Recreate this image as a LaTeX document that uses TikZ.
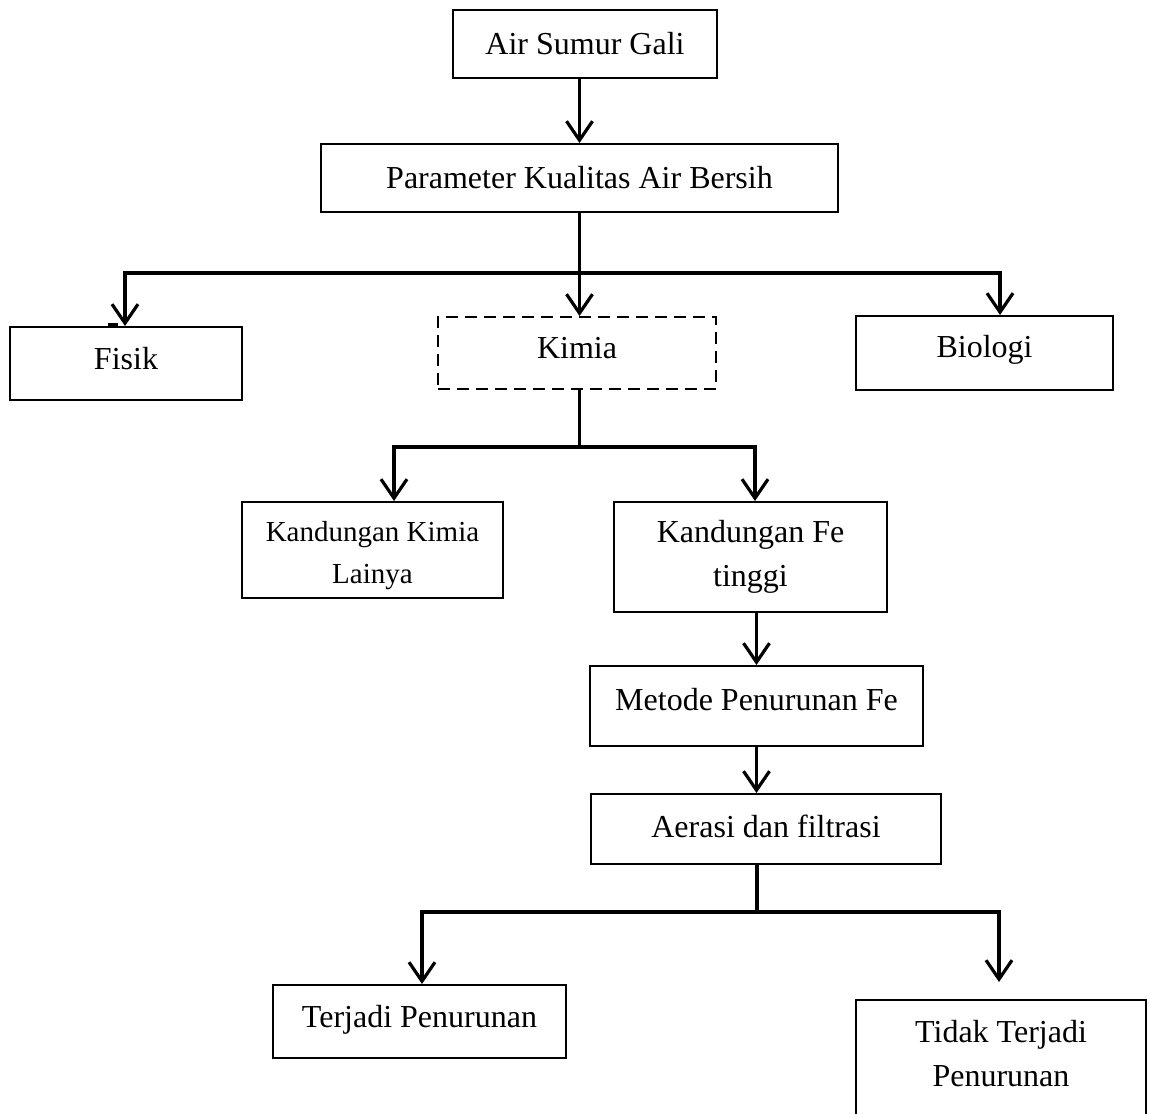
\documentclass[tikz,border=0pt]{standalone}
\usepackage{fontspec}
\setmainfont{Liberation Serif}
\usetikzlibrary{arrows.meta}
\begin{document}
\begin{tikzpicture}[x=0.5pt,y=-0.5pt,
  bx/.style={draw, line width=1pt, inner sep=0pt, align=center, font=\fontsize{16}{22}\selectfont},
  sz/.style 2 args={minimum width=#1*0.5pt, minimum height=#2*0.5pt},
  ln/.style={line width=1.6pt, line join=miter},
  tip/.tip={Straight Barb[length=9.5pt,width=13pt]},
  arr/.style={ln, -tip},
  arr2/.style={ln, tip-tip}]
\useasboundingbox (0,0) rectangle (1149,1113);
\clip (0,0) rectangle (1149,1113);

% boxes
\node[bx, sz={264}{68}] (asg) at (585,44) {Air Sumur Gali};
\node[bx, sz={517}{68}] (par) at (579.5,178) {Parameter Kualitas Air Bersih};
\node[bx, sz={232}{73}, text depth=5pt] (fis) at (126,363.5) {Fisik};
\node[bx, sz={278}{72}, text depth=5pt, dash pattern=on 6pt off 3.5pt] (kim) at (577,353) {Kimia};
\node[bx, sz={257}{74}, text depth=6.5pt] (bio) at (984.5,353) {Biologi};
\node[bx, sz={261}{96}, text height=37pt, font=\fontsize{14.5}{21}\selectfont] (kkl) at (372.5,550) {Kandungan Kimia\\Lainya};
\node[bx, sz={273}{110}] (kfe) at (750.5,557) {Kandungan Fe\\tinggi};
\node[bx, sz={333}{80}, text depth=7pt] (met) at (756.5,706) {Metode Penurunan Fe};
\node[bx, sz={350}{70}, text depth=3pt] (aer) at (766,829) {Aerasi dan filtrasi};
\node[bx, sz={293}{73}, text depth=5.5pt] (ter) at (419.5,1021.5) {Terjadi Penurunan};
\node[bx, sz={290}{130}, text depth=12pt] (tid) at (1001,1065) {Tidak Terjadi\\Penurunan};

% junction points
\coordinate (hL) at (125,273);
\coordinate (hR) at (1000,273);
\coordinate (kL) at (394,447);
\coordinate (kR) at (755,447);
\coordinate (aL) at (422,912);
\coordinate (aR) at (999,912);
\coordinate (aE) at (999,982);

% connectors
\draw[arr] (par.north |- asg.south) -- (par.north);
\draw[ln] (par.south) -- (par.south |- hL);
\draw[arr2] (hL |- fis.north) -- (hL) -- (hR) -- (hR |- bio.north);
\draw[arr] (par.south |- hL) -- (par.south |- kim.north);

\draw[ln] (par.south |- kim.south) -- (par.south |- kL);
\draw[arr2] (kL |- kkl.north) -- (kL) -- (kR) -- (kR |- kfe.north);

\draw[arr] (met.north |- kfe.south) -- (met.north);
\draw[arr] (met.south) -- (met.south |- aer.north);

\draw[ln, line width=2pt] (met.south |- aer.south) -- (met.south |- aL);
\draw[arr2] (aL |- ter.north) -- (aL) -- (aR) -- (aE);

% small mark above Fisik
\fill (108,323) rectangle (118,327);
\end{tikzpicture}
\end{document}
